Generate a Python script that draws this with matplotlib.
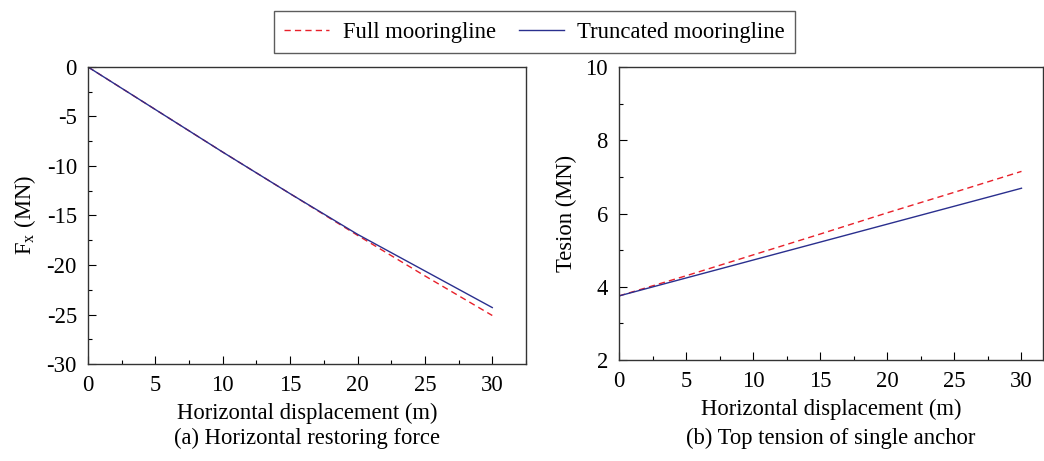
import numpy as np
import matplotlib.pyplot as plt
from matplotlib.ticker import MultipleLocator

plt.rcParams['font.family'] = ['Liberation Serif', 'DejaVu Serif']
plt.rcParams['mathtext.fontset'] = 'stix'
plt.rcParams['axes.unicode_minus'] = False

# displacement (m)
disp = [0, 5, 10, 15, 20, 25, 30]

# (a) horizontal restoring force Fx (MN)
fx_full = [0, -4.3, -8.6, -12.8, -17.0, -21.1, -25.1]
fx_trunc = [0, -4.3, -8.6, -12.8, -16.9, -20.6, -24.3]

# (b) top tension of single anchor (MN)
ten_full = [3.75, 4.30, 4.87, 5.44, 6.02, 6.58, 7.15]
ten_trunc = [3.75, 4.24, 4.73, 5.22, 5.71, 6.20, 6.69]

red = '#e8202a'
blue = '#2a2f8e'
fs = 16.3

fig = plt.figure(figsize=(10.44, 4.61), dpi=100)
ax1 = fig.add_axes([0.0843, 0.2104, 0.4195, 0.6443])
ax2 = fig.add_axes([0.5929, 0.219, 0.4061, 0.6357])

l1, = ax1.plot(disp, fx_full, color=red, ls=(0, (4.5, 3)), lw=1.0)
l2, = ax1.plot(disp, fx_trunc, color=blue, lw=1.0)
ax1.set_xlim(0, 32.5)
ax1.set_ylim(-30, 0)
ax1.xaxis.set_minor_locator(MultipleLocator(2.5))
ax1.yaxis.set_major_locator(MultipleLocator(5))
ax1.yaxis.set_minor_locator(MultipleLocator(2.5))
ax1.set_xticks([0, 5, 10, 15, 20, 25, 30])
ax1.set_xlabel('Horizontal displacement (m)', fontsize=fs)
ax1.set_ylabel(r'F$_\mathregular{x}$ (MN)', fontsize=fs)

ax2.plot(disp, ten_full, color=red, ls=(0, (4.5, 3)), lw=1.0)
ax2.plot(disp, ten_trunc, color=blue, lw=1.0)
ax2.set_xlim(0, 31.6)
ax2.set_ylim(2, 10)
ax2.set_xticks([0, 5, 10, 15, 20, 25, 30])
ax2.xaxis.set_minor_locator(MultipleLocator(2.5))
ax2.yaxis.set_major_locator(MultipleLocator(2))
ax2.yaxis.set_minor_locator(MultipleLocator(1))
ax2.set_xlabel('Horizontal displacement (m)', fontsize=fs)
ax2.set_ylabel('Tesion (MN)', fontsize=fs)

for ax in (ax1, ax2):
    ax.tick_params(which='both', direction='in', labelsize=fs, pad=8)
    ax.tick_params(which='major', length=6, width=0.8)
    ax.tick_params(which='minor', length=3, width=0.8)
    ax.tick_params(axis='x', which='both', top=False)
    ax.tick_params(axis='y', which='both', right=False)
    ax.xaxis.labelpad = 5
    ax.yaxis.labelpad = 6
    for s in ax.spines.values():
        s.set_linewidth(1.0)
        s.set_color('#333333')

fig.text(0.294, 0.037, '(a) Horizontal restoring force', ha='center', fontsize=fs)
fig.text(0.796, 0.037, '(b) Top tension of single anchor', ha='center', fontsize=fs)

leg = fig.legend([l1, l2], ['Full mooringline', 'Truncated mooringline'],
                 loc='upper center', bbox_to_anchor=(0.512, 1.0), ncol=2,
                 fontsize=fs, frameon=True, fancybox=False, edgecolor='#333333',
                 handlelength=2.0, handletextpad=0.6, columnspacing=1.0,
                 borderpad=0.45)
leg.get_frame().set_linewidth(1.0)

fig.savefig('out.png', dpi=100)
